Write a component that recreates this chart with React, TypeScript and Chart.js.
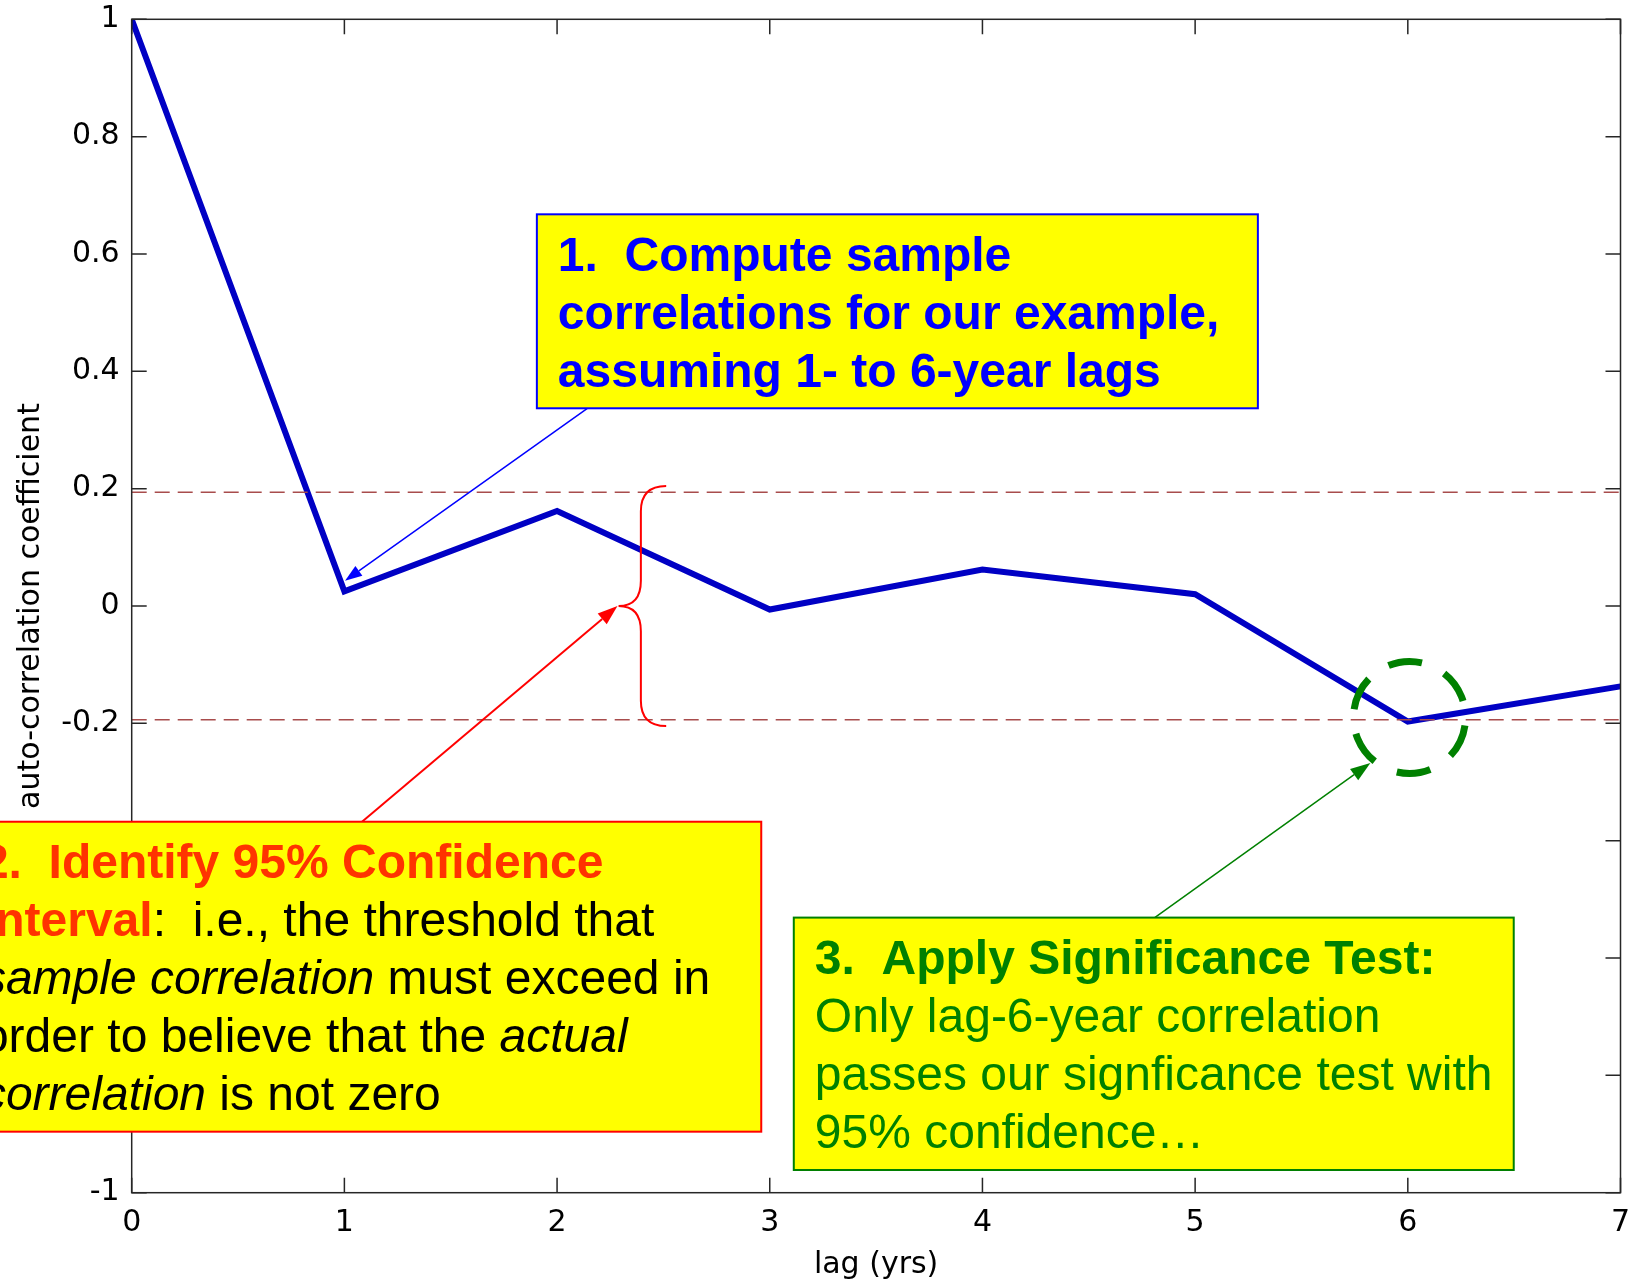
import React, { useEffect, useRef } from 'react';
import { Chart, registerables } from 'chart.js';

Chart.register(...registerables);

// ---------- data ----------
const lags = [0, 1, 2, 3, 4, 5, 6, 7];
const autoCorr = [1, 0.025, 0.162, -0.006, 0.062, 0.02, -0.197, -0.137];
const confidenceBound = 0.194;
const xRange = [0, 7];
const yRange = [-1, 1];
const xStep = 1;
const yStep = 0.2;
const xAxisTitle = 'lag (yrs)';
const yAxisTitle = 'auto-correlation coefficient';

type Run = { t: string; b?: boolean; i?: boolean; c?: string };

const BLUE = '#0000ff';
const ORANGE = '#ff3300';
const GREEN = '#008000';
const RED = '#ff0000';

const box1Lines: Run[][] = [
  [{ t: '1.  Compute sample', b: true }],
  [{ t: 'correlations for our example,', b: true }],
  [{ t: 'assuming 1- to 6-year lags', b: true }],
];
const box2Lines: Run[][] = [
  [{ t: '2.  Identify 95% Confidence', b: true, c: ORANGE }],
  [{ t: 'Interval', b: true, c: ORANGE }, { t: ':  i.e., the threshold that' }],
  [{ t: 'sample correlation', i: true }, { t: ' must exceed in' }],
  [{ t: 'order to believe that the ' }, { t: 'actual', i: true }],
  [{ t: 'correlation', i: true }, { t: ' is not zero' }],
];
const box3Lines: Run[][] = [
  [{ t: '3.  Apply Significance Test:', b: true }],
  [{ t: 'Only lag-6-year correlation' }],
  [{ t: 'passes our signficance test with' }],
  [{ t: '95% confidence…' }],
];

// annotation placement in data units (lag, coefficient)
const boxes = [
  { x0: 1.905, x1: 5.295, yTop: 0.6676, yBot: 0.337, border: BLUE, color: BLUE, lines: box1Lines },
  { x0: -0.803, x1: 2.96, yTop: -0.3677, yBot: -0.896, border: RED, color: '#000000', lines: box2Lines },
  { x0: 3.113, x1: 6.498, yTop: -0.5311, yBot: -0.9613, border: GREEN, color: GREEN, lines: box3Lines },
];
const arrows = [
  { from: [2.141, 0.3363], to: [1.003, 0.043], color: BLUE, width: 1.5, head: 17, half: 6 },
  { from: [1.083, -0.3677], to: [2.284, 0.0], color: RED, width: 2, head: 20, half: 7 },
  { from: [4.81, -0.531], to: [5.824, -0.2676], color: GREEN, width: 1.5, head: 20, half: 7 },
];
const brace = { xTip: 2.513, xStem: 2.394, xPoint: 2.289, yTop: 0.2045, yBot: -0.2045, yMid: 0 };
const circle = { x: 6.008, y: -0.19 };

const TEXT_FONT = '"Liberation Sans", Arial, sans-serif';
const AXIS_FONT = '"DejaVu Sans", sans-serif';

function drawRuns(ctx: CanvasRenderingContext2D, runs: Run[], x: number, y: number, size: number, defColor: string) {
  let cx = x;
  for (const r of runs) {
    ctx.font = `${r.i ? 'italic ' : ''}${r.b ? 'bold ' : ''}${size}px ${TEXT_FONT}`;
    ctx.fillStyle = r.c || defColor;
    ctx.fillText(r.t, cx, y);
    cx += ctx.measureText(r.t).width;
  }
}

function drawArrow(ctx: CanvasRenderingContext2D, x0: number, y0: number, x1: number, y1: number, color: string, width: number, headLen: number, half: number) {
  const ang = Math.atan2(y1 - y0, x1 - x0);
  const bx = x1 - headLen * Math.cos(ang);
  const by = y1 - headLen * Math.sin(ang);
  ctx.strokeStyle = color;
  ctx.lineWidth = width;
  ctx.setLineDash([]);
  ctx.beginPath();
  ctx.moveTo(x0, y0);
  ctx.lineTo(bx, by);
  ctx.stroke();
  ctx.fillStyle = color;
  ctx.beginPath();
  ctx.moveTo(x1, y1);
  ctx.lineTo(bx + half * Math.sin(ang), by - half * Math.cos(ang));
  ctx.lineTo(bx - half * Math.sin(ang), by + half * Math.cos(ang));
  ctx.closePath();
  ctx.fill();
}

const overlayPlugin = {
  id: 'overlay',
  afterDraw(chart: any) {
    const { ctx, chartArea: a, scales } = chart;
    const xs = scales.x;
    const ys = scales.y;
    const px = (v: number) => xs.getPixelForValue(v);
    const py = (v: number) => ys.getPixelForValue(v);
    ctx.save();
    // frame
    ctx.strokeStyle = '#262626';
    ctx.lineWidth = 1.5;
    ctx.setLineDash([]);
    ctx.strokeRect(a.left, a.top, a.right - a.left, a.bottom - a.top);
    // inward ticks on all four sides
    const tl = 15;
    ctx.beginPath();
    for (const t of xs.ticks) {
      const x = px(t.value);
      ctx.moveTo(x, a.bottom);
      ctx.lineTo(x, a.bottom - tl);
      ctx.moveTo(x, a.top);
      ctx.lineTo(x, a.top + tl);
    }
    for (const t of ys.ticks) {
      const y = py(t.value);
      ctx.moveTo(a.left, y);
      ctx.lineTo(a.left + tl, y);
      ctx.moveTo(a.right, y);
      ctx.lineTo(a.right - tl, y);
    }
    ctx.stroke();

    // brace
    {
      const xt = px(brace.xTip), xsx = px(brace.xStem), xp = px(brace.xPoint);
      const yt = py(brace.yTop), yb = py(brace.yBot), ym = py(brace.yMid);
      const r = xt - xsx;
      ctx.strokeStyle = RED;
      ctx.lineWidth = 2;
      ctx.beginPath();
      ctx.moveTo(xt, yt);
      ctx.quadraticCurveTo(xsx, yt, xsx, yt + r);
      ctx.lineTo(xsx, ym - r);
      ctx.quadraticCurveTo(xsx, ym, xp, ym);
      ctx.quadraticCurveTo(xsx, ym, xsx, ym + r);
      ctx.lineTo(xsx, yb - r);
      ctx.quadraticCurveTo(xsx, yb, xt, yb);
      ctx.stroke();
    }

    // dashed circle
    {
      const cx = px(circle.x), cy = py(circle.y);
      const R = 56;
      const period = (2 * Math.PI * R) / 6;
      const dash = 34;
      ctx.strokeStyle = GREEN;
      ctx.lineWidth = 7;
      ctx.setLineDash([dash, period - dash]);
      const a0 = (-112 * Math.PI) / 180;
      ctx.beginPath();
      ctx.arc(cx, cy, R, a0, a0 + 2 * Math.PI);
      ctx.stroke();
      ctx.setLineDash([]);
    }

    // arrows
    for (const ar of arrows) {
      drawArrow(ctx, px(ar.from[0]), py(ar.from[1]), px(ar.to[0]), py(ar.to[1]), ar.color, ar.width, ar.head, ar.half);
    }

    // text boxes
    const size = 48;
    const lineGap = 58;
    for (const b of boxes) {
      const x0 = px(b.x0), x1 = px(b.x1), y0 = py(b.yTop), y1 = py(b.yBot);
      ctx.fillStyle = '#ffff00';
      ctx.fillRect(x0, y0, x1 - x0, y1 - y0);
      ctx.strokeStyle = b.border;
      ctx.lineWidth = 2;
      ctx.strokeRect(x0, y0, x1 - x0, y1 - y0);
      ctx.textAlign = 'left';
      ctx.textBaseline = 'alphabetic';
      b.lines.forEach((runs, i) => {
        drawRuns(ctx, runs, x0 + 21, y0 + 56.4 + i * lineGap, size, b.color);
      });
    }
    ctx.restore();
  },
};

export default function App() {
  const ref = useRef<HTMLCanvasElement>(null);
  useEffect(() => {
    const canvas = ref.current;
    if (!canvas) return;
    const chart = new Chart(canvas, {
      type: 'line',
      data: {
        datasets: [
          {
            label: 'upper bound',
            data: xRange.map((x) => ({ x, y: confidenceBound })),
            borderColor: '#a84c4c',
            borderWidth: 1.5,
            borderDash: [15, 8],
            pointRadius: 0,
          },
          {
            label: 'lower bound',
            data: xRange.map((x) => ({ x, y: -confidenceBound })),
            borderColor: '#a84c4c',
            borderWidth: 1.5,
            borderDash: [15, 8],
            pointRadius: 0,
          },
          {
            label: 'auto-correlation',
            data: lags.map((x, i) => ({ x, y: autoCorr[i] })),
            borderColor: '#0000c4',
            borderWidth: 6,
            pointRadius: 0,
            tension: 0,
            borderJoinStyle: 'miter',
          },
        ],
      },
      options: {
        animation: false,
        responsive: false,
        devicePixelRatio: 1,
        layout: { padding: { left: 0, right: 14.5, top: 19.3, bottom: 0 } },
        plugins: { legend: { display: false }, tooltip: { enabled: false } },
        scales: {
          x: {
            type: 'linear',
            min: xRange[0],
            max: xRange[1],
            grid: { display: false, drawTicks: false },
            border: { display: false },
            ticks: {
              stepSize: xStep,
              color: '#000',
              padding: 13,
              font: { family: AXIS_FONT, size: 30 },
            },
            title: {
              display: true,
              text: xAxisTitle,
              color: '#000',
              font: { family: AXIS_FONT, size: 30 },
              padding: { top: 0, bottom: 0 },
            },
            afterFit: (s: any) => {
              s.height = 90.3;
              s.paddingLeft = 0;
              s.paddingRight = 0;
            },
          },
          y: {
            type: 'linear',
            min: yRange[0],
            max: yRange[1],
            grid: { display: false, drawTicks: false },
            border: { display: false },
            ticks: {
              stepSize: yStep,
              color: '#000',
              padding: 12,
              font: { family: AXIS_FONT, size: 30 },
              callback: (v: any) => String(Math.round(Number(v) * 10) / 10),
            },
            title: {
              display: true,
              text: yAxisTitle,
              color: '#000',
              font: { family: AXIS_FONT, size: 30 },
              padding: { top: 13, bottom: 0 },
            },
            afterFit: (s: any) => {
              s.width = 131.7;
              s.paddingTop = 0;
              s.paddingBottom = 0;
            },
          },
        },
      } as any,
      plugins: [overlayPlugin],
    });
    return () => chart.destroy();
  }, []);
  return (
    <div style={{ position: 'fixed', left: 0, top: 0, width: 1635, height: 1283, background: '#ffffff' }}>
      <canvas ref={ref} width={1635} height={1283} style={{ display: 'block', width: 1635, height: 1283 }} />
    </div>
  );
}
